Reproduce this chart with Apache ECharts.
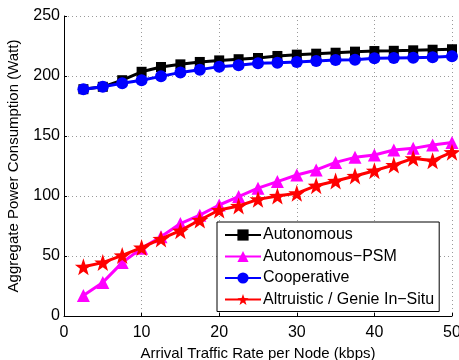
<!DOCTYPE html>
<html>
<head>
<meta charset="utf-8">
<script src="https://cdn.jsdelivr.net/npm/echarts@6/dist/echarts.min.js"></script>
<style>
  html, body { margin: 0; padding: 0; background: #fff; }
  #chart-container { width: 459px; height: 360px; }
</style>
</head>
<body>
<div id="chart-container"></div>
<script>
// x positions (kbps)
var rates = [2.5, 5, 7.5, 10, 12.5, 15, 17.5, 20, 22.5, 25, 27.5, 30, 32.5, 35, 37.5, 40, 42.5, 45, 47.5, 50];

var seriesNames = ['Autonomous', 'Autonomous\u2212PSM', 'Cooperative', 'Altruistic / Genie In\u2212Situ'];

var autonomous = [189, 191, 196.5, 203.5, 207.5, 209.7, 211.7, 213, 214, 215, 216.7, 217.8, 218.6, 219.4, 220.3, 220.8, 221, 221.4, 221.9, 222.3];
var autonomousPsm = [17, 28, 44.5, 56.5, 66, 77, 84, 92.5, 99.5, 106.5, 112, 117.5, 121.7, 128, 132.2, 134.2, 138.3, 139.7, 142.5, 144.5];
var cooperative = [189, 191, 194, 196.5, 199.7, 203, 205.3, 207.8, 208.9, 210.6, 211.1, 211.7, 212.5, 213.3, 213.6, 214.7, 215, 215.3, 215.6, 216.4];
var altruistic = [41, 44.5, 50.5, 57, 64.2, 71.1, 80, 88.3, 91.7, 97.2, 100, 102.2, 108.6, 112.5, 116.7, 121.1, 125.8, 131.4, 129.4, 136.5];

var xTicks = { min: 0, max: 50, interval: 10 };
var yTicks = { min: 0, max: 250, interval: 50 };

function pairs(ys) {
    var out = [];
    for (var i = 0; i < rates.length; i++) {
        out.push([rates[i], ys[i]]);
    }
    return out;
}

(function () {
    var domChart = document.getElementById('chart-container');
    var ioChart = echarts.init(domChart, null, { renderer: 'canvas' });
    var fontFamily = '"Liberation Sans", Arial, Helvetica, sans-serif';

    var gridLine = {
        show: true,
        lineStyle: { color: '#9a9a9a', width: 1, type: [1, 3] }
    };

    function lineSeries(name, data, color, symbol, size, z) {
        return {
            name: name,
            type: 'line',
            data: pairs(data),
            symbol: symbol,
            symbolSize: size,
            showAllSymbol: true,
            lineStyle: { color: color, width: 3 },
            itemStyle: { color: color, borderWidth: 0 },
            emphasis: { disabled: true },
            z: z
        };
    }

    var starPath = 'path://M0,-10 L2.35,-3.24 L9.51,-3.09 L3.8,1.24 L5.88,8.09 L0,4 L-5.88,8.09 L-3.8,1.24 L-9.51,-3.09 L-2.35,-3.24 Z';

    var chartOption = {
        animation: false,
        backgroundColor: '#fff',
        textStyle: { fontFamily: fontFamily },
        grid: {
            left: 64,
            right: 7,
            top: 16,
            bottom: 44,
            containLabel: false,
            outerBoundsMode: 'none'
        },
        legend: {
            orient: 'vertical',
            left: 217,
            top: 222,
            width: 228,
            padding: [5, 5, 4, 7],
            itemWidth: 36,
            itemHeight: 14,
            itemGap: 5.5,
            borderColor: '#000',
            borderWidth: 1,
            backgroundColor: '#fff',
            textStyle: { fontSize: 16, color: '#000', fontFamily: fontFamily, padding: [0, 0, 0, -3] },
            data: seriesNames
        },
        xAxis: {
            type: 'value',
            min: xTicks.min,
            max: xTicks.max,
            interval: xTicks.interval,
            name: 'Arrival Traffic Rate per Node (kbps)',
            nameLocation: 'middle',
            nameGap: 30,
            nameTextStyle: { fontSize: 15, color: '#000', fontFamily: fontFamily },
            axisLine: { show: true, lineStyle: { color: '#000', width: 1 } },
            axisTick: { show: true, inside: true, length: 3, lineStyle: { color: '#000' } },
            axisLabel: { fontSize: 16, color: '#000', margin: 9, fontFamily: fontFamily },
            splitLine: gridLine
        },
        yAxis: {
            type: 'value',
            min: yTicks.min,
            max: yTicks.max,
            interval: yTicks.interval,
            name: 'Aggregate Power Consumption (Watt)',
            nameLocation: 'middle',
            nameGap: 43,
            nameTextStyle: { fontSize: 15, color: '#000', fontFamily: fontFamily },
            axisLine: { show: true, lineStyle: { color: '#000', width: 1 } },
            axisTick: { show: true, inside: true, length: 3, lineStyle: { color: '#000' } },
            axisLabel: { fontSize: 16, color: '#000', margin: 4, fontFamily: fontFamily },
            splitLine: gridLine
        },
        series: [
            lineSeries(seriesNames[0], autonomous, '#000000', 'rect', 10, 3),
            lineSeries(seriesNames[1], autonomousPsm, '#ff00ff', 'triangle', 13, 3),
            lineSeries(seriesNames[2], cooperative, '#0000ff', 'circle', 12, 4),
            lineSeries(seriesNames[3], altruistic, '#ff0000', starPath, 17, 4)
        ]
    };

    ioChart.setOption(chartOption);
})();
</script>
</body>
</html>
